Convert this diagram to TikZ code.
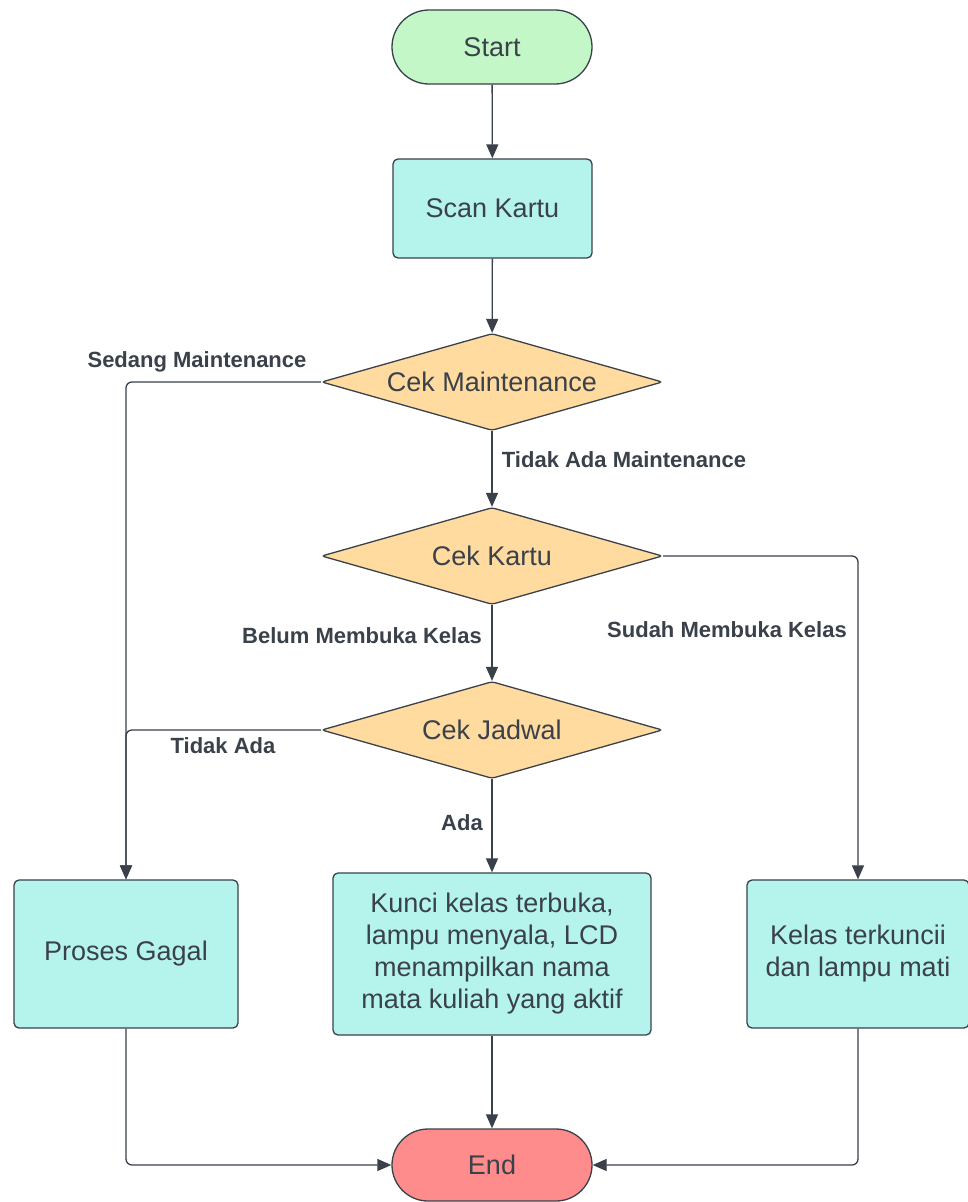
\documentclass[tikz,border=0pt]{standalone}
\usepackage{fontspec}
\setmainfont{Liberation Sans}
\usetikzlibrary{shapes.geometric,arrows.meta}
\definecolor{ink}{HTML}{3A414A}
\definecolor{startfill}{HTML}{C3F7C8}
\definecolor{procfill}{HTML}{B5F4EC}
\definecolor{decfill}{HTML}{FFDBA0}
\definecolor{endfill}{HTML}{FF8C8C}
\begin{document}
\begin{tikzpicture}[x=1pt,y=-1pt,
  base/.style={draw=ink,line width=1.3pt,text=ink,font=\fontsize{27}{32}\selectfont,inner sep=0pt,align=center},
  term/.style={base,rounded corners=37pt,minimum width=200pt,minimum height=74pt},
  proc/.style={base,rounded corners=5pt,fill=procfill},
  dec/.style={base,diamond,fill=decfill,aspect=3.5,minimum width=341pt,minimum height=97pt,rounded corners=3pt},
  lbl/.style={text=ink,font=\fontsize{22}{26}\selectfont\bfseries,inner sep=0pt},
  conn/.style={draw=ink,line width=1.3pt,rounded corners=6pt,-{Triangle[length=14pt,width=12pt]}}
]
\useasboundingbox (0,0) rectangle (967,1202);
\fill[white] (0,0) rectangle (967,1202);

\node[term,fill=startfill] (start) at (492,47) {Start};
\node[proc,minimum width=199pt,minimum height=99pt] (scan) at (492.5,208.5) {Scan Kartu};
\node[dec] (cm) at (492,382) {Cek Maintenance};
\node[dec] (ck) at (492,556) {Cek Kartu};
\node[dec] (cj) at (492,730) {Cek Jadwal};
\node[proc,minimum width=224pt,minimum height=148pt] (pg) at (126,954) {Proses Gagal};
\node[proc,minimum width=318pt,minimum height=162pt] (kk) at (492,954) {Kunci kelas terbuka,\\lampu menyala, LCD\\menampilkan nama\\mata kuliah yang aktif};
\node[proc,minimum width=222pt,minimum height=148pt] (kl) at (858,954) {Kelas terkuncii\\dan lampu mati};
\node[term,fill=endfill,minimum height=72pt,rounded corners=36pt] (end) at (492,1165) {End};

\node[lbl] (l1) at (197,362) {Sedang Maintenance};
\node[lbl] (l2) at (624,460) {Tidak Ada Maintenance};
\node[lbl] (l3) at (362,636) {Belum Membuka Kelas};
\node[lbl] (l4) at (727,630) {Sudah Membuka Kelas};
\node[lbl] (l5) at (223,746) {Tidak Ada};
\node[lbl] (l6) at (462,823) {Ada};

\draw[conn] (start) -- (scan);
\draw[conn] (scan) -- (cm);
\draw[conn] (cm.west) -| (pg.north);
\draw[conn] (cm.south) -- (ck.north);
\draw[conn] (ck.east) -| (kl.north);
\draw[conn] (ck.south) -- (cj.north);
\draw[conn] (cj.west) -| (pg.north);
\draw[conn] (cj.south) -- (kk.north);
\draw[conn] (pg.south) |- (end.west);
\draw[conn] (kk.south) -- (end.north);
\draw[conn] (kl.south) |- (end.east);
\end{tikzpicture}
\end{document}
